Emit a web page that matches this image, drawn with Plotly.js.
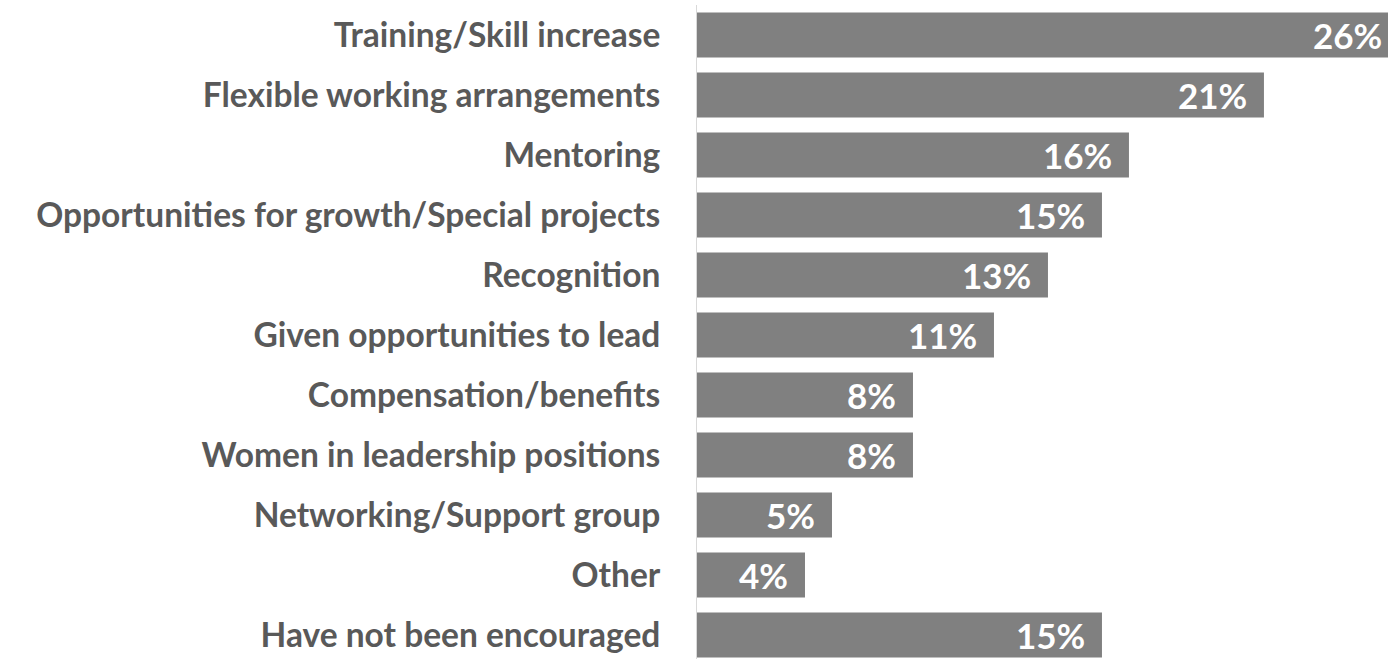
<!DOCTYPE html>
<html>
<head>
<meta charset="utf-8">
<script src="https://cdn.plot.ly/plotly-3.0.1.min.js"></script>
<style>
  html, body { margin: 0; padding: 0; overflow: hidden; background: #fff; }
  #bar-plot { width: 1420px; height: 659px; }
</style>
</head>
<body>
<div id="bar-plot"></div>
<script>
// categories top to bottom and the share for each one (in %)
var categories = [
  "Training/Skill increase",
  "Flexible working arrangements",
  "Mentoring",
  "Opportunities for growth/Special projects",
  "Recognition",
  "Given opportunities to lead",
  "Compensation/benefits",
  "Women in leadership positions",
  "Networking/Support group",
  "Other",
  "Have not been encouraged"
];
var shares = [26, 21, 16, 15, 13, 11, 8, 8, 5, 4, 15];
var shareLabels = ["26%", "21%", "16%", "15%", "13%", "11%", "8%", "8%", "5%", "4%", "15%"];

var trace = {
  type: "bar",
  orientation: "h",
  x: shares,
  y: categories,
  marker: {color: "#808080"},
  hoverinfo: "skip"
};

// value labels sit inside the bar end
var labels = shares.map(function (v, i) {
  return {
    x: v,
    y: categories[i],
    xref: "x",
    yref: "y",
    text: shareLabels[i],
    showarrow: false,
    xanchor: "right",
    xshift: -15,
    font: {family: "Lato", size: 35, color: "#ffffff", weight: "bold"}
  };
});

var layout = {
  width: 1420,
  height: 659,
  margin: {l: 697, r: 0, t: 5, b: 0},
  paper_bgcolor: "#ffffff",
  plot_bgcolor: "#ffffff",
  showlegend: false,
  bargap: 0.25,
  xaxis: {
    range: [0, 26.78],
    visible: false,
    fixedrange: true
  },
  yaxis: {
    type: "category",
    range: [10.4, -0.5],
    showline: true,
    linecolor: "#d9d9d9",
    linewidth: 1,
    showgrid: false,
    zeroline: false,
    ticks: "",
    ticklabelstandoff: 29,
    tickfont: {family: "Lato", size: 33.5, color: "#595959", weight: "bold"},
    fixedrange: true
  },
  annotations: labels
};

Plotly.newPlot("bar-plot", [trace], layout, {displayModeBar: false, staticPlot: true});
</script>
</body>
</html>
